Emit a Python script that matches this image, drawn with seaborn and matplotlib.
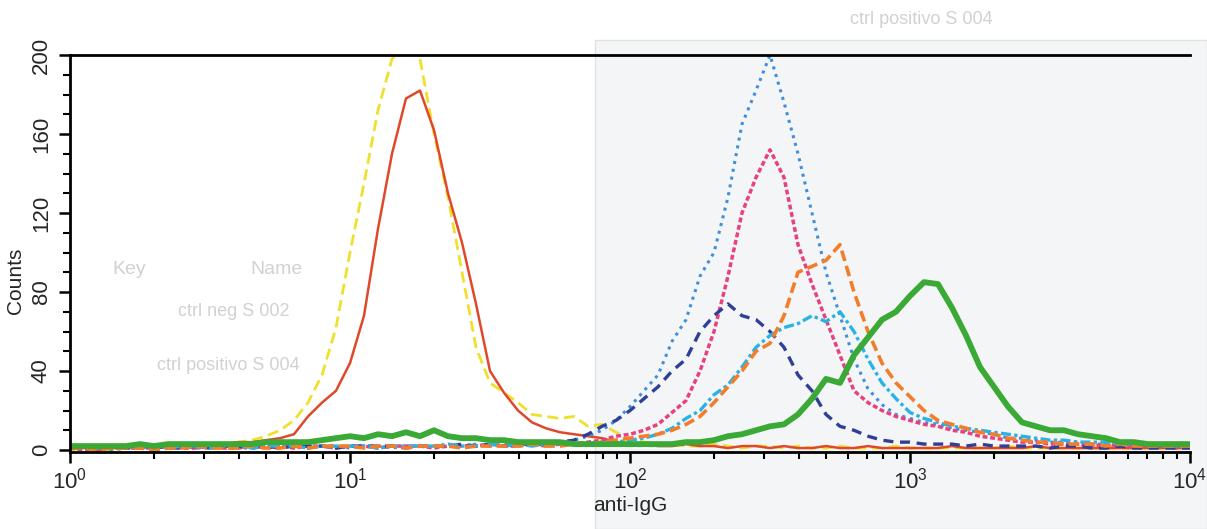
import numpy as np
import pandas as pd
import matplotlib
matplotlib.use("Agg")
import matplotlib.pyplot as plt
import matplotlib.ticker as mticker
from matplotlib.patches import Rectangle
import seaborn as sns

# ---- data: counts per channel, channels spaced 0.05 decade from 10^0 to 10^4 ----
channel_log10 = np.round(np.arange(0, 4.0001, 0.05), 2)

ctrl_neg = [1, 1, 0, 1, 1, 2, 1, 2, 2, 3, 2, 3, 4, 4, 5, 6, 8, 17, 24, 30,
            44, 68, 112, 150, 178, 182, 162, 130, 105, 74, 40, 29, 20, 14, 11, 9, 8, 7, 6, 4,
            3, 3, 2, 2, 3, 2, 2, 1, 2, 2, 1, 2, 1, 1, 2, 1, 1, 2, 1, 1,
            1, 1, 1, 2, 1, 1, 1, 1, 1, 2, 1, 1, 1, 1, 1, 1, 1, 1, 1, 1, 1]
ctrl_neg_b = [0, 1, 1, 0, 1, 1, 2, 1, 2, 2, 2, 3, 4, 5, 7, 10, 15, 24, 38, 62,
              100, 135, 172, 198, 206, 198, 160, 128, 90, 52, 34, 29, 24, 18, 17, 16, 17, 12, 13, 9,
              6, 4, 3, 3, 2, 2, 3, 2, 1, 2, 2, 1, 2, 1, 1, 2, 1, 1, 1, 2,
              1, 1, 1, 1, 1, 1, 1, 2, 1, 1, 1, 1, 1, 1, 1, 1, 1, 1, 1, 1, 1]
sample_blue = [1, 1, 1, 0, 1, 1, 1, 1, 2, 1, 1, 2, 1, 1, 2, 1, 2, 1, 2, 2,
               1, 2, 2, 1, 2, 2, 2, 2, 2, 3, 2, 3, 2, 3, 3, 4, 5, 7, 10, 15,
               22, 30, 38, 55, 66, 88, 100, 128, 165, 182, 200, 176, 150, 120, 90, 68, 46, 31, 23, 18,
               16, 14, 13, 11, 10, 9, 8, 6, 6, 5, 4, 4, 4, 3, 3, 3, 2, 3, 2, 2, 2]
sample_pink = [1, 0, 1, 1, 1, 1, 1, 2, 1, 1, 2, 1, 1, 2, 1, 2, 1, 2, 2, 1,
               2, 2, 1, 2, 2, 2, 1, 2, 2, 2, 3, 2, 2, 3, 2, 3, 3, 4, 5, 7,
               8, 10, 13, 19, 25, 40, 60, 88, 120, 138, 152, 138, 104, 84, 66, 48, 30, 24, 20, 17,
               15, 13, 12, 10, 9, 7, 6, 5, 4, 4, 3, 3, 3, 2, 3, 2, 2, 2, 2, 1, 2]
sample_orange = [1, 1, 0, 1, 1, 1, 0, 1, 1, 2, 1, 1, 1, 2, 1, 1, 2, 1, 2, 2,
                 2, 1, 2, 2, 1, 2, 2, 2, 1, 2, 2, 2, 2, 3, 2, 2, 3, 3, 4, 5,
                 6, 7, 8, 10, 13, 17, 24, 32, 40, 50, 54, 68, 90, 93, 96, 104, 80, 60, 44, 34,
                 27, 20, 15, 13, 11, 9, 8, 6, 5, 4, 4, 3, 3, 3, 2, 3, 2, 2, 2, 2, 2]
sample_cyan = [2, 2, 1, 2, 2, 1, 2, 1, 2, 2, 1, 2, 2, 1, 2, 2, 2, 1, 2, 2,
               2, 2, 1, 2, 2, 2, 2, 3, 2, 2, 3, 2, 3, 2, 3, 3, 3, 3, 4, 4,
               5, 6, 8, 11, 16, 20, 28, 33, 42, 52, 58, 62, 64, 68, 65, 70, 60, 46, 34, 26,
               19, 16, 14, 12, 11, 10, 9, 8, 7, 6, 5, 5, 4, 4, 4, 3, 3, 3, 3, 2, 3]
sample_navy = [1, 1, 1, 2, 1, 1, 2, 1, 1, 2, 1, 2, 2, 1, 2, 1, 2, 2, 2, 1,
               2, 2, 2, 2, 1, 2, 2, 2, 3, 2, 3, 2, 3, 3, 3, 4, 5, 8, 12, 15,
               20, 26, 32, 40, 46, 60, 68, 74, 68, 66, 60, 52, 38, 30, 18, 12, 10, 7, 5, 4,
               4, 3, 3, 3, 2, 3, 2, 2, 2, 2, 1, 2, 2, 1, 1, 2, 1, 1, 1, 1, 1]
sample_green = [2, 2, 2, 2, 2, 3, 2, 3, 3, 3, 3, 3, 3, 3, 4, 4, 4, 4, 5, 6,
                7, 6, 8, 7, 9, 7, 10, 7, 6, 6, 5, 5, 4, 4, 4, 4, 3, 3, 3, 3,
                3, 3, 3, 3, 4, 4, 5, 7, 8, 10, 12, 13, 18, 26, 36, 34, 48, 57, 66, 70,
                78, 85, 84, 72, 58, 42, 32, 22, 14, 12, 10, 10, 8, 7, 6, 4, 4, 3, 3, 3, 3]

y_ticks = [0, 40, 80, 120, 160, 200]
x_decades = [1, 10, 100, 1000, 10000]
x_tick_labels = ["$10^{0}$", "$10^{1}$", "$10^{2}$", "$10^{3}$", "$10^{4}$"]

series = [
    # name, values, color, dashes, linewidth
    ("ctrl_neg_b", ctrl_neg_b, "#efe02e", (0, (4, 2)), 2.0),
    ("ctrl_neg", ctrl_neg, "#e0482c", "-", 1.8),
    ("sample_blue", sample_blue, "#3f8fdc", (0, (1, 1.6)), 2.2),
    ("sample_pink", sample_pink, "#e8417f", (0, (1.4, 0.8)), 2.5),
    ("sample_navy", sample_navy, "#2f3f98", (0, (3, 2)), 2.4),
    ("sample_cyan", sample_cyan, "#2ab2e6", (0, (3, 1, 1, 1)), 2.4),
    ("sample_orange", sample_orange, "#f27e2c", (0, (3, 1.4)), 2.6),
    ("sample_green", sample_green, "#3aa935", "-", 4.2),
]

sns.set_style("ticks")
plt.rcParams["font.family"] = ["Liberation Sans", "DejaVu Sans"]
plt.rcParams["mathtext.default"] = "regular"

fig = plt.figure(figsize=(12.07, 5.29), dpi=100)

# faint scanned background tint on the right half (behind the axes)
bg = Rectangle((595 / 1207, 0), 612 / 1207, 489 / 529, transform=fig.transFigure,
               facecolor="#f4f5f6", edgecolor="#dfe1e3", lw=1.0, zorder=0)
fig.add_artist(bg)

ax = fig.add_axes([70 / 1207, 77 / 529, 1120 / 1207, 397 / 529])
ax.set_zorder(2)
ax.set_facecolor("none")

x_vals = 10 ** channel_log10
for name, vals, color, ls, lw in series:
    sns.lineplot(x=x_vals, y=np.asarray(vals, dtype=float), ax=ax, color=color,
                 linestyle=ls, linewidth=lw, legend=False)

ax.set_xscale("log")
ax.set_xlim(1, 10000)
ax.set_ylim(-1, 200)

ax.xaxis.set_major_locator(mticker.FixedLocator(x_decades))
ax.xaxis.set_major_formatter(mticker.FixedFormatter(x_tick_labels))
ax.xaxis.set_minor_locator(mticker.LogLocator(base=10, subs=np.arange(2, 10)))
ax.xaxis.set_minor_formatter(mticker.NullFormatter())
ax.yaxis.set_major_locator(mticker.FixedLocator(y_ticks))
ax.yaxis.set_minor_locator(mticker.MultipleLocator(10))

ax.tick_params(axis="both", which="major", direction="out", length=8, width=1.8,
               color="black", labelsize=16)
ax.tick_params(axis="both", which="minor", direction="out", length=5, width=1.5, color="black")
ax.tick_params(axis="y", which="major", pad=5)
ax.tick_params(axis="x", which="major", pad=3)
plt.setp(ax.get_yticklabels(), rotation=90, va="center")

for side in ["left", "top", "bottom"]:
    ax.spines[side].set_linewidth(2.0)
    ax.spines[side].set_color("black")
ax.spines["right"].set_visible(False)

ax.set_xlabel("anti-IgG", fontsize=15, labelpad=2)
ax.set_ylabel("Counts", fontsize=15)
ax.yaxis.set_label_coords(-0.040, 0.43)

# faint show-through text from the scanned page
faint = "#cfd1d3"
fig.text(850 / 1207, 1 - 20 / 529, "ctrl positivo S 004", color=faint, fontsize=13, ha="left", va="center")
fig.text(112 / 1207, 1 - 270 / 529, "Key", color=faint, fontsize=14, ha="left", va="center")
fig.text(250 / 1207, 1 - 270 / 529, "Name", color=faint, fontsize=14, ha="left", va="center")
fig.text(290 / 1207, 1 - 312 / 529, "ctrl neg S 002", color=faint, fontsize=13, ha="right", va="center")
fig.text(300 / 1207, 1 - 365 / 529, "ctrl positivo S 004", color=faint, fontsize=13, ha="right", va="center")

fig.savefig("out.png", dpi=100)
